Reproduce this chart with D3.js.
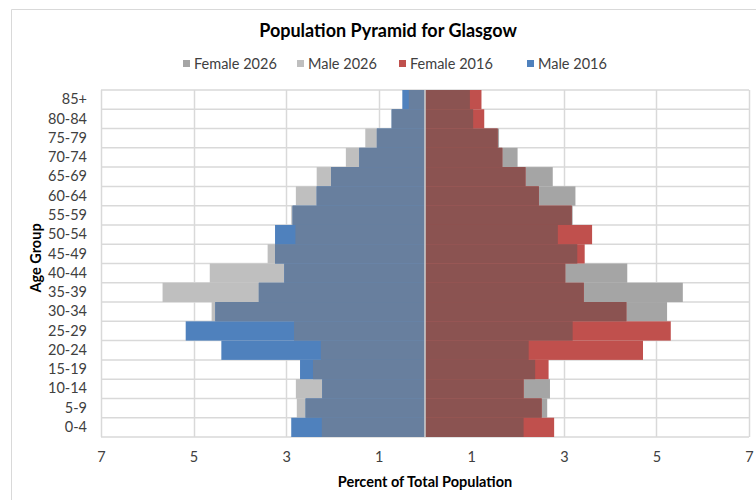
<!DOCTYPE html>
<html>
<head>
<meta charset="utf-8">
<script src="https://cdn.jsdelivr.net/npm/d3@7"></script>
<style>
  body { margin: 0; background: #fff; }
  text { font-family: Lato, "Open Sans", sans-serif; }
</style>
</head>
<body>
<div id="chart"></div>
<script>
// age groups, top of the pyramid first
const ageGroups = ["85+", "80-84", "75-79", "70-74", "65-69", "60-64", "55-59", "50-54", "45-49",
    "40-44", "35-39", "30-34", "25-29", "20-24", "15-19", "10-14", "5-9", "0-4"];

// percent of total population, same order as ageGroups
const male2016 = [0.49, 0.72, 1.04, 1.42, 2.03, 2.34, 2.86, 3.24, 3.24,
    3.04, 3.59, 4.53, 5.17, 4.40, 2.70, 2.22, 2.58, 2.89];
const male2026 = [0.35, 0.72, 1.29, 1.71, 2.34, 2.79, 2.89, 2.80, 3.40,
    4.65, 5.67, 4.61, 2.83, 2.25, 2.42, 2.79, 2.77, 2.23];
const female2016 = [1.22, 1.28, 1.57, 1.67, 2.17, 2.46, 3.17, 3.61, 3.45,
    3.03, 3.43, 4.35, 5.31, 4.71, 2.67, 2.13, 2.52, 2.79];
const female2026 = [0.97, 1.04, 1.60, 2.00, 2.76, 3.25, 3.19, 2.87, 3.29,
    4.37, 5.57, 5.23, 3.19, 2.24, 2.38, 2.70, 2.64, 2.13];

const xTicks = [-7, -5, -3, -1, 1, 3, 5, 7];

const legendItems = [
    { name: "Female 2026", color: "#a5a5a5", x: 183 },
    { name: "Male 2026", color: "#bfbfbf", x: 297 },
    { name: "Female 2016", color: "#c0504d", x: 399 },
    { name: "Male 2016", color: "#4f81bd", x: 527 }
];

const width = 756, height = 500;
const gridColor = "#d9d9d9";

const svg = d3.select("#chart")
    .append("svg")
    .attr("width", width)
    .attr("height", height);

svg.append("rect").attr("width", width).attr("height", height).attr("fill", "#fff");

// chart area border (left and top visible)
svg.append("path")
    .attr("d", `M11.5,${height} V9.5 H${width}`)
    .attr("fill", "none")
    .attr("stroke", gridColor);

const x = d3.scaleLinear().domain([-7, 7]).range([101, 749]);
const y = d3.scaleBand().domain(ageGroups).range([90, 437]).padding(0);

// gridlines
svg.append("g")
    .selectAll("line")
    .data(xTicks)
    .join("line")
    .attr("x1", d => Math.round(x(d)) + 0.5)
    .attr("x2", d => Math.round(x(d)) + 0.5)
    .attr("y1", y.range()[0])
    .attr("y2", y.range()[1])
    .attr("stroke", gridColor)
    .attr("stroke-width", 1.5);

const rowEdges = ageGroups.map(d => y(d)).concat([y.range()[1]]);
svg.append("g")
    .selectAll("line")
    .data(rowEdges)
    .join("line")
    .attr("x1", x(-7))
    .attr("x2", x(7))
    .attr("y1", d => d)
    .attr("y2", d => d)
    .attr("stroke", gridColor)
    .attr("stroke-width", 1.5);

const rows = ageGroups.map((g, i) => ({
    group: g,
    m16: male2016[i], m26: male2026[i],
    f16: female2016[i], f26: female2026[i]
}));

function drawBars(cls, getVal, sign, color) {
    svg.append("g")
        .selectAll("rect")
        .data(rows)
        .join("rect")
        .attr("class", cls)
        .attr("x", d => sign < 0 ? x(-getVal(d)) : x(0))
        .attr("width", d => Math.abs(x(getVal(d)) - x(0)))
        .attr("y", d => y(d.group))
        .attr("height", y.bandwidth())
        .attr("fill", color);
}

// male side (left)
drawBars("m26", d => d.m26, -1, "#bfbfbf");
drawBars("m16", d => d.m16, -1, "#4f81bd");
drawBars("mboth", d => Math.min(d.m16, d.m26), -1, "#687f9e");

// female side (right)
drawBars("f26", d => d.f26, 1, "#a5a5a5");
drawBars("f16", d => d.f16, 1, "#c0504d");
drawBars("fboth", d => Math.min(d.f16, d.f26), 1, "#8b5351");

// vertical axis line at 0
svg.append("line")
    .attr("x1", x(0)).attr("x2", x(0))
    .attr("y1", y.range()[0]).attr("y2", y.range()[1])
    .attr("stroke", "#cfcfcf")
    .attr("stroke-width", 1.5);

// x axis
const xAxis = svg.append("g")
    .attr("transform", `translate(0, 449)`)
    .call(d3.axisBottom(x).tickValues(xTicks).tickFormat(d => Math.abs(d)).tickSize(0));
xAxis.select(".domain").remove();
xAxis.selectAll("text")
    .attr("font-size", 14.5)
    .attr("fill", "#404040")
    .style("font-family", "Lato, sans-serif");

// y axis
const yAxis = svg.append("g")
    .attr("transform", `translate(94, 0)`)
    .call(d3.axisLeft(y).tickSize(0).tickPadding(7));
yAxis.select(".domain").remove();
yAxis.selectAll("text")
    .attr("font-size", 14.5)
    .attr("fill", "#404040")
    .style("font-family", "Lato, sans-serif");

// titles
svg.append("text")
    .attr("x", 388)
    .attr("y", 37)
    .attr("text-anchor", "middle")
    .attr("font-size", 18)
    .attr("font-weight", "bold")
    .attr("fill", "#000")
    .text("Population Pyramid for Glasgow");

svg.append("text")
    .attr("x", x(0))
    .attr("y", 487)
    .attr("text-anchor", "middle")
    .attr("font-size", 14.5)
    .attr("font-weight", "bold")
    .attr("fill", "#000")
    .text("Percent of Total Population");

svg.append("text")
    .attr("transform", `translate(41, 258) rotate(-90)`)
    .attr("text-anchor", "middle")
    .attr("font-size", 14.5)
    .attr("font-weight", "bold")
    .attr("fill", "#000")
    .text("Age Group");

// legend
const legend = svg.append("g")
    .selectAll("g")
    .data(legendItems)
    .join("g")
    .attr("transform", d => `translate(${d.x}, 64)`);
legend.append("rect")
    .attr("x", 0).attr("y", -4)
    .attr("width", 7).attr("height", 7)
    .attr("fill", d => d.color);
legend.append("text")
    .attr("x", 11)
    .attr("y", 5)
    .attr("font-size", 14.5)
    .attr("fill", "#404040")
    .text(d => d.name);
</script>
</body>
</html>
